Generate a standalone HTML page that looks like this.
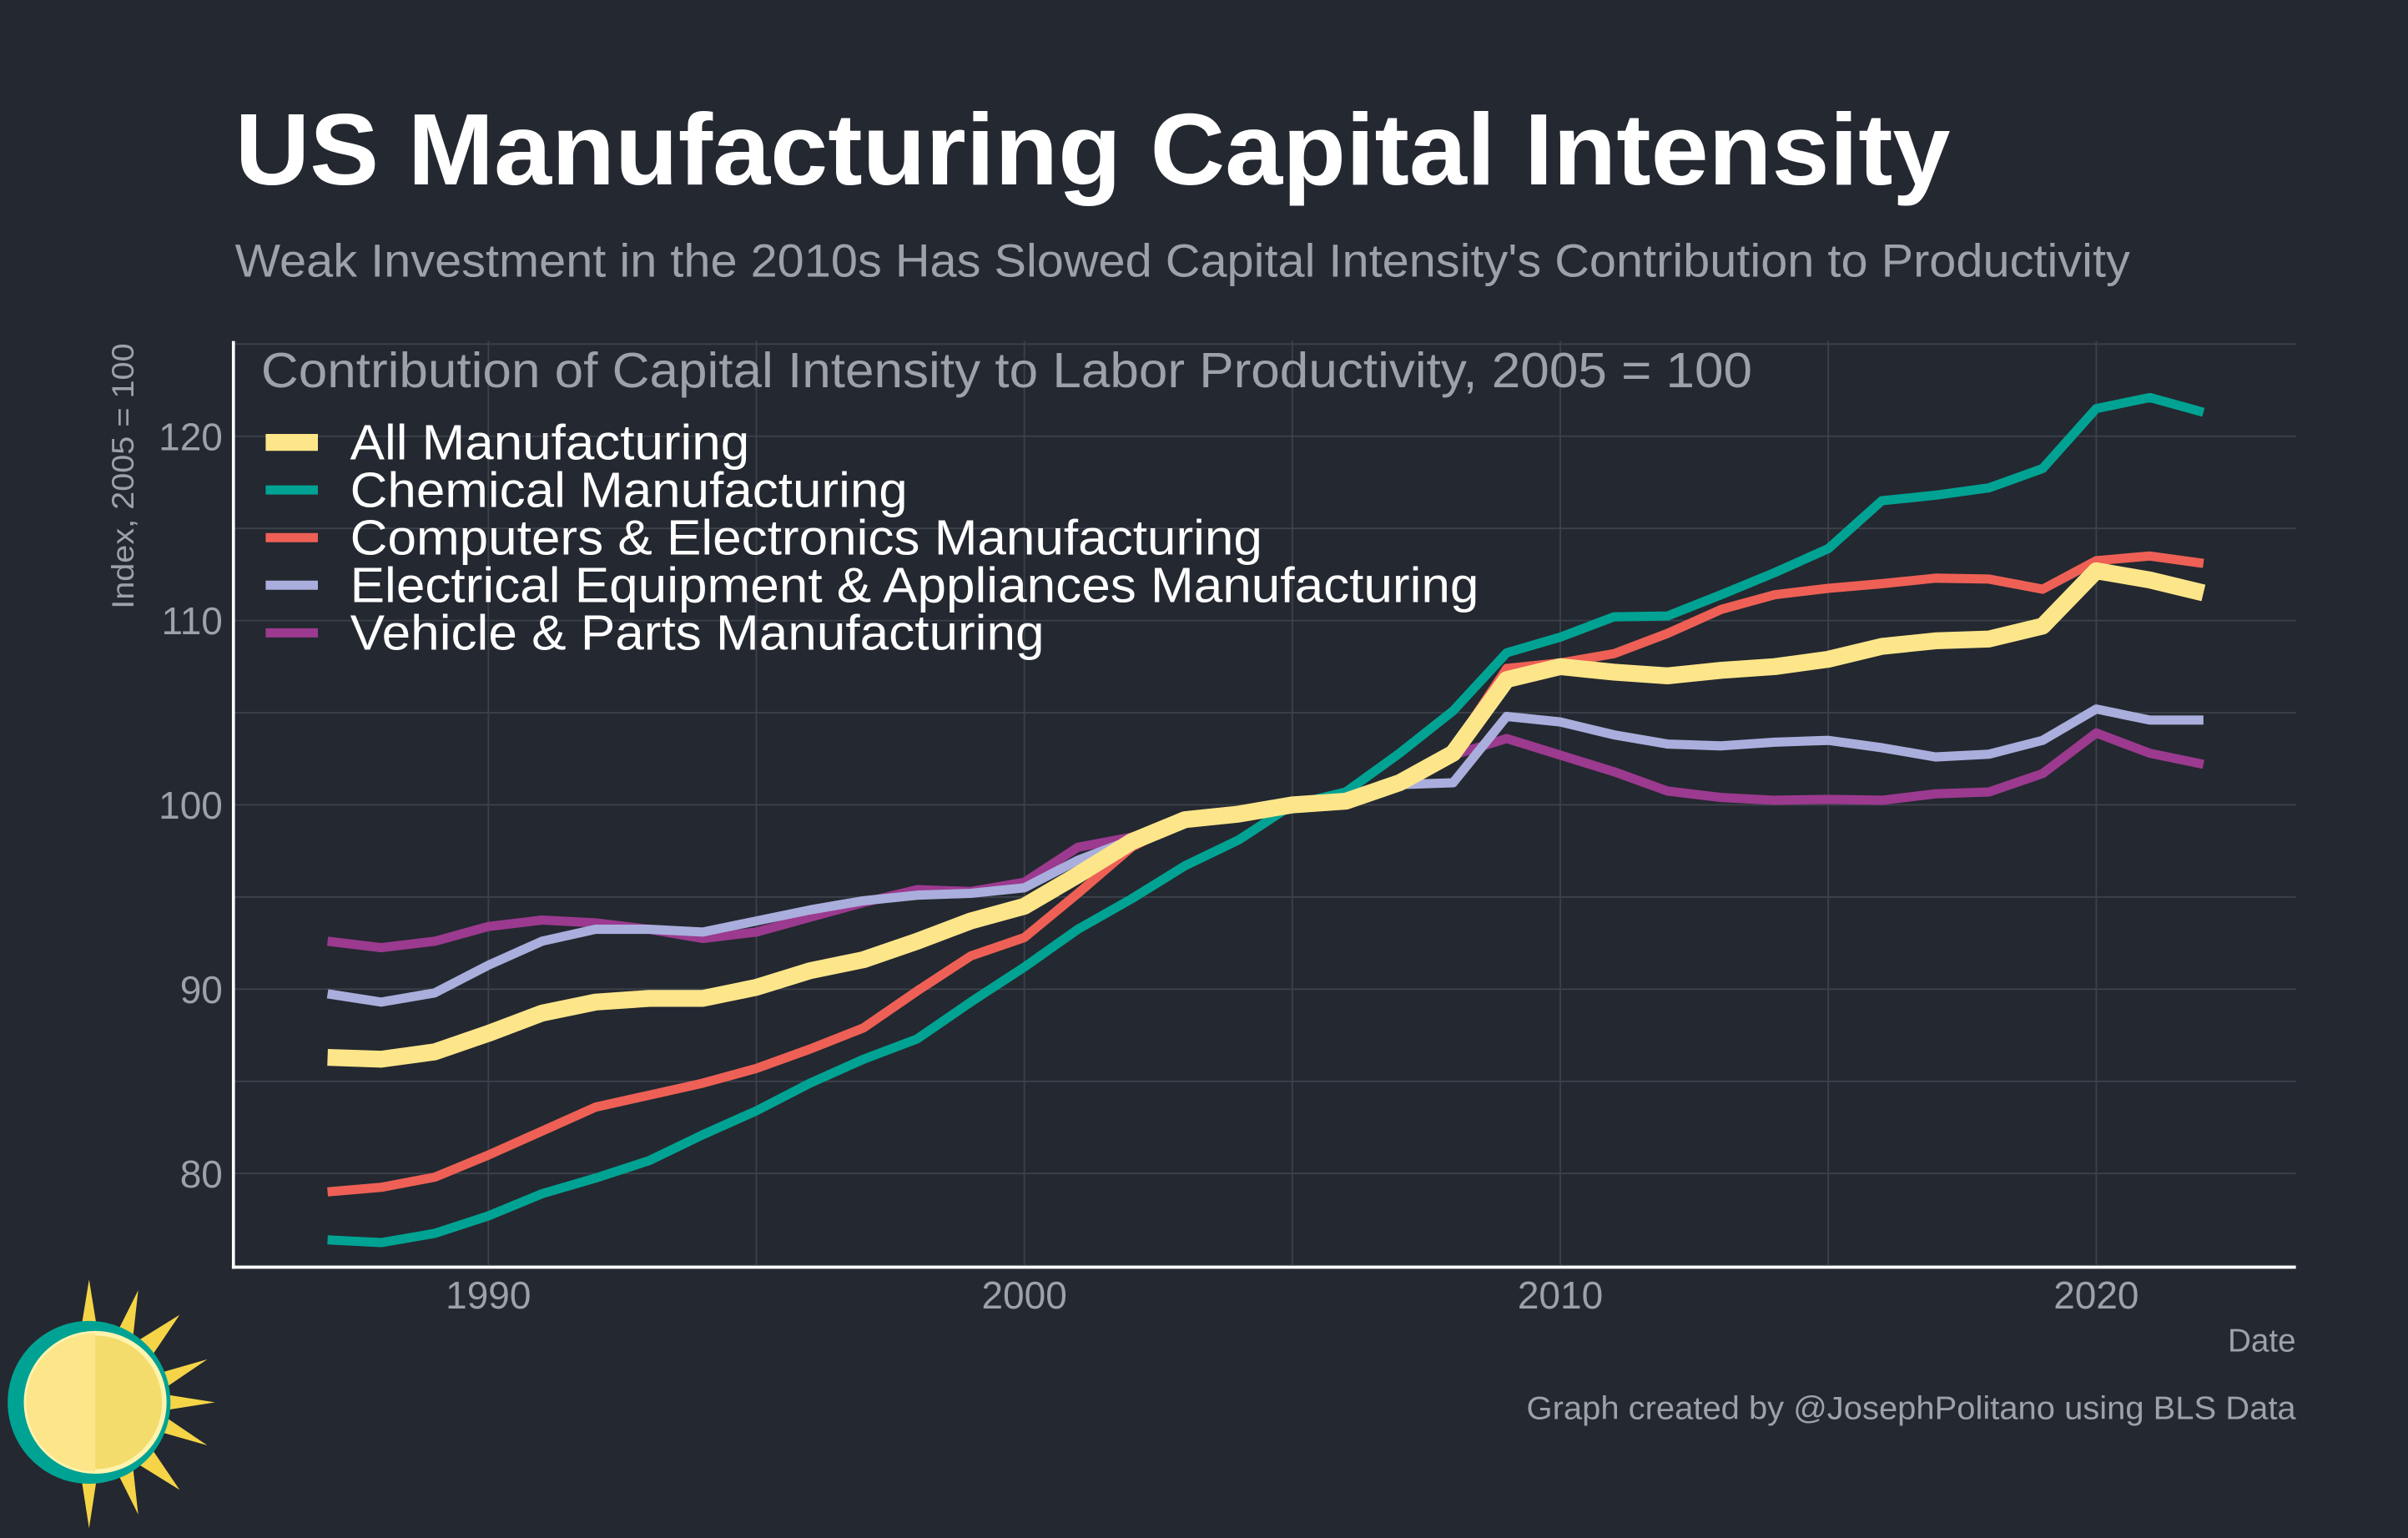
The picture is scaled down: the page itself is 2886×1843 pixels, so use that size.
<!DOCTYPE html>
<html><head><meta charset="utf-8"><style>
html,body{margin:0;padding:0;background:#242830;}
svg{display:block;font-family:"Liberation Sans",Arial,sans-serif;}
</style></head><body>
<svg id="chart" width="2886" height="1843" viewBox="0 0 1568 1001.3" xmlns="http://www.w3.org/2000/svg">
<rect x="0" y="0" width="1568" height="1002" fill="#242830"/>
<text x="153" y="120" font-size="66" font-weight="bold" fill="#ffffff" textLength="1117" lengthAdjust="spacingAndGlyphs">US Manufacturing Capital Intensity</text>
<text x="153" y="180" font-size="30" fill="#9da1a8" textLength="1234" lengthAdjust="spacingAndGlyphs">Weak Investment in the 2010s Has Slowed Capital Intensity's Contribution to Productivity</text>
<g id="grid"></g>
<g id="lines"></g>
<line x1="152" y1="222" x2="152" y2="826" stroke="#ffffff" stroke-width="2"/>
<line x1="151" y1="825" x2="1495" y2="825" stroke="#ffffff" stroke-width="2"/>
<g id="yticks"></g>
<g id="xticks"></g>
<text transform="translate(87,310) rotate(-90)" text-anchor="middle" font-size="20" fill="#9da1a8" textLength="173" lengthAdjust="spacingAndGlyphs">Index, 2005 = 100</text>
<text x="1495" y="880" text-anchor="end" font-size="21" fill="#9da1a8">Date</text>
<text x="170" y="252" font-size="32" fill="#9da1a8" textLength="971" lengthAdjust="spacingAndGlyphs">Contribution of Capital Intensity to Labor Productivity, 2005 = 100</text>
<g id="legend"></g>
<text x="994" y="924" font-size="21" fill="#9da1a8" textLength="501" lengthAdjust="spacingAndGlyphs">Graph created by @JosephPolitano using BLS Data</text>
<g>
<g fill="#f5d547">
<polygon points="58,833 52,870 64,870"/>
<polygon points="58,995 52,956 64,956"/>
<polygon points="140,913 102,907 102,919"/>
<polygon points="117,856 88,874 98,884"/>
<polygon points="117,970 88,952 98,942"/>
<polygon points="90,840 74,872 86,876"/>
<polygon points="90,986 74,954 86,950"/>
<polygon points="135,885 100,895 104,906"/>
<polygon points="135,941 100,931 104,920"/>
</g>
<circle cx="58" cy="913" r="53" fill="#00a393"/>
<circle cx="62" cy="913" r="45" fill="#f3dc6b" stroke="#fff3b0" stroke-width="3"/>
<path d="M62,913 L62,868 A45,45 0 0,0 62,958 Z" fill="#fde68a"/>
</g>
<script>
const years=[];for(let y=1987;y<=2022;y++)years.push(y);
const yTicks=[80,90,100,110,120];
const xTicks=[1990,2000,2010,2020];
const allMfg=[86.3,86.2,86.6,87.6,88.7,89.3,89.5,89.5,90.1,91.0,91.6,92.6,93.7,94.5,96.2,98.0,99.2,99.5,100,100.2,101.2,102.8,106.8,107.5,107.2,107.0,107.3,107.5,107.9,108.6,108.9,109.0,109.7,112.7,112.2,111.5];
const chemical=[76.4,76.25,76.75,77.7,78.9,79.75,80.7,82.1,83.4,84.9,86.2,87.3,89.3,91.2,93.25,94.9,96.7,98.1,100,100.7,102.8,105.1,108.25,109.1,110.2,110.25,111.4,112.6,113.9,116.5,116.8,117.2,118.25,121.5,122.1,121.3];
const computers=[79.0,79.25,79.8,81.0,82.3,83.6,84.25,84.9,85.7,86.75,87.9,89.9,91.8,92.8,95.2,97.7,99.2,99.5,100,100.3,101.3,103,107.4,107.7,108.2,109.3,110.6,111.4,111.75,112,112.3,112.25,111.7,113.25,113.5,113.1];
const electrical=[89.75,89.3,89.8,91.3,92.6,93.25,93.25,93.1,93.7,94.3,94.8,95.1,95.2,95.5,97.0,98.1,99.25,99.5,100,100.5,101.1,101.2,104.8,104.5,103.8,103.3,103.2,103.4,103.5,103.1,102.6,102.75,103.5,105.2,104.6,104.6];
const vehicle=[92.6,92.25,92.6,93.4,93.75,93.6,93.25,92.75,93.1,93.9,94.7,95.4,95.3,95.8,97.7,98.25,99.2,99.5,100,100.5,101.3,102.7,103.6,102.7,101.8,100.75,100.4,100.25,100.3,100.25,100.6,100.7,101.7,103.9,102.8,102.2];
const seriesNames=["All Manufacturing","Chemical Manufacturing","Computers & Electronics Manufacturing","Electrical Equipment & Appliances Manufacturing","Vehicle & Parts Manufacturing"];
const NS="http://www.w3.org/2000/svg";
const xS=y=>667+(y-2000)*34.9;
const yS=v=>524-(v-100)*12;
function mk(tag,attrs,parent){const e=document.createElementNS(NS,tag);for(const k in attrs)e.setAttribute(k,attrs[k]);parent.appendChild(e);return e;}
const grid=document.getElementById('grid');
for(let v=75;v<=125;v+=5){const y=yS(v);if(y<222||y>825)continue;
 const l=mk('line',{x1:152,x2:1495,y1:y,y2:y,stroke:'#3c414a','stroke-width':1},grid);
 
 }
for(let yr=1985;yr<=2025;yr+=5){const x=xS(yr);if(x<152||x>1495)continue;
 const l=mk('line',{x1:x,x2:x,y1:222,y2:825,stroke:'#3c414a','stroke-width':1},grid);
 
 }
const yt=document.getElementById('yticks');
yTicks.forEach(v=>{const t=mk('text',{x:145,y:yS(v)+9,'text-anchor':'end','font-size':25,fill:'#9da1a8'},yt);t.textContent=v;
 
 });
const xt=document.getElementById('xticks');
xTicks.forEach(v=>{const t=mk('text',{x:xS(v),y:852,'text-anchor':'middle','font-size':25,fill:'#9da1a8'},xt);t.textContent=v;
 
 });
const series=[
 {d:vehicle,c:'#9b3a8f',w:6,n:'line-vehicle'},
 {d:electrical,c:'#a9aedc',w:6,n:'line-electrical'},
 {d:computers,c:'#ee6055',w:6,n:'line-computers'},
 {d:chemical,c:'#00a393',w:6,n:'line-chemical'},
 {d:allMfg,c:'#fde68a',w:11,n:'line-all-manufacturing'}];
const lg=document.getElementById('lines');
series.forEach(s=>{const pts=s.d.map((v,i)=>xS(years[i]).toFixed(1)+','+yS(v).toFixed(1)).join(' ');
 const p=mk('polyline',{points:pts,fill:'none',stroke:s.c,'stroke-width':s.w,'stroke-linejoin':'round'},lg);
 
 });
const leg=document.getElementById('legend');
const legCols=['#fde68a','#00a393','#ee6055','#a9aedc','#9b3a8f'];
const legLens=[260,363,594,735,452];
seriesNames.forEach((n,i)=>{const y=288+i*31;
 const l=mk('line',{x1:173,x2:207,y1:y,y2:y,stroke:legCols[i],'stroke-width':i==0?11:6},leg);
 
 
 const t=mk('text',{x:228,y:y+11,'font-size':32,fill:'#ffffff',textLength:legLens[i],lengthAdjust:'spacingAndGlyphs'},leg);t.textContent=n;
 
 });
</script>
</svg>
</body></html>
